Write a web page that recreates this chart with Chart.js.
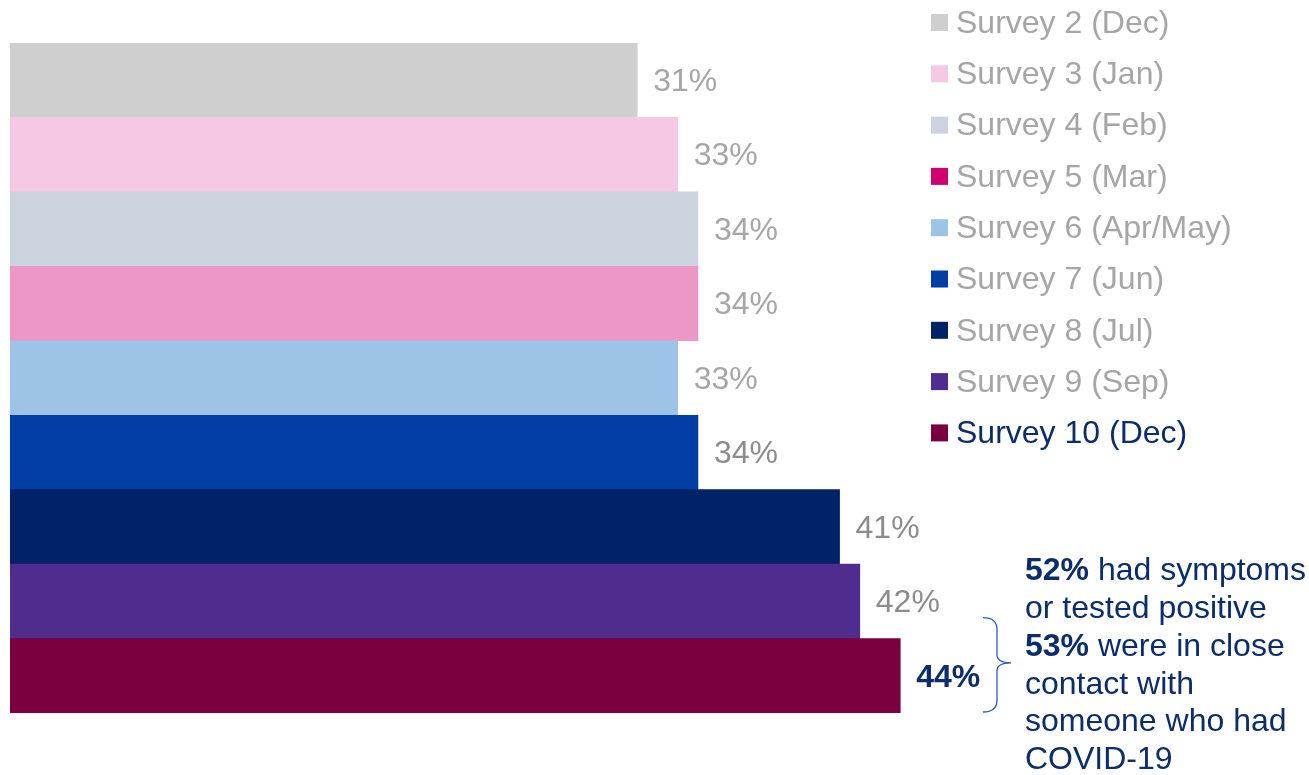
<!DOCTYPE html>
<html>
<head>
<meta charset="utf-8">
<script src="https://cdn.jsdelivr.net/npm/chart.js@4/dist/chart.umd.min.js"></script>
<style>
  html, body { margin: 0; padding: 0; background: #fff; }
  #wrap { width: 1309px; height: 775px; position: relative; }
</style>
</head>
<body>
<div id="wrap"><canvas id="chart" width="1309" height="775"></canvas></div>
<script>
const surveys = ["Survey 2 (Dec)", "Survey 3 (Jan)", "Survey 4 (Feb)", "Survey 5 (Mar)", "Survey 6 (Apr/May)",
  "Survey 7 (Jun)", "Survey 8 (Jul)", "Survey 9 (Sep)", "Survey 10 (Dec)"];
const values = [31, 33, 34, 34, 33, 34, 41, 42, 44];
const barColors = ["#cfcfcf", "#f5c9e3", "#cbd3de", "#ec97c6", "#9dc3e6", "#003da5", "#002266", "#4f2d8f", "#7a0040"];
const legendColors = ["#cfcfcf", "#f5c9e3", "#cbd3de", "#d1006f", "#9dc3e6", "#003da5", "#002266", "#4f2d8f", "#7a0040"];
const labelColors = ["#a6a6a6", "#a6a6a6", "#a6a6a6", "#a6a6a6", "#a6a6a6", "#8c8c8c", "#8c8c8c", "#8c8c8c", "#0b2d6b"];
const noteLines = [
  [["52%", true], [" had symptoms", false]],
  [["or tested positive", false]],
  [["53%", true], [" were in close", false]],
  [["contact with", false]],
  [["someone who had", false]],
  [["COVID-19", false]]
];

const FONT = "'Liberation Sans', Arial, sans-serif";
const NAVY = "#0b2d6b";

const overlay = {
  id: "overlay",
  afterDatasetsDraw(chart) {
    const ctx = chart.ctx;
    const bars = chart.getDatasetMeta(0).data;
    const last = bars.length - 1;

    // value labels at the end of each bar
    ctx.save();
    ctx.textBaseline = "middle";
    ctx.textAlign = "left";
    bars.forEach((bar, i) => {
      ctx.font = (i === last ? "bold " : "") + "32px " + FONT;
      ctx.fillStyle = labelColors[i];
      ctx.fillText(values[i] + "%", bar.x + 16, bar.y + 2);
    });

    // legend, one row per survey
    const lx = 931, ly = 23, step = 51.3;
    ctx.font = "32px " + FONT;
    surveys.forEach((s, i) => {
      const y = ly + i * step;
      ctx.fillStyle = legendColors[i];
      ctx.fillRect(lx, y - 9, 17, 17);
      ctx.fillStyle = i === last ? NAVY : "#a6a6a6";
      ctx.fillText(s, lx + 25, y + 1);
    });

    // brace next to the last bar
    const b = bars[last];
    const top = b.y - b.height / 2 - 21, bot = b.y + b.height / 2 - 1, mid = (top + bot) / 2 - 2;
    const bx = 983;
    ctx.strokeStyle = "#2b5bc0";
    ctx.lineWidth = 1.3;
    ctx.beginPath();
    ctx.moveTo(bx, top);
    ctx.quadraticCurveTo(bx + 14, top, bx + 14, top + 12);
    ctx.lineTo(bx + 14, mid - 8);
    ctx.quadraticCurveTo(bx + 14, mid, bx + 28, mid);
    ctx.quadraticCurveTo(bx + 14, mid, bx + 14, mid + 8);
    ctx.lineTo(bx + 14, bot - 12);
    ctx.quadraticCurveTo(bx + 14, bot, bx, bot);
    ctx.stroke();

    // note text
    const nx = 1025, ny = 571, lh = 37.9;
    ctx.fillStyle = NAVY;
    noteLines.forEach((parts, i) => {
      let x = nx;
      parts.forEach(([txt, bold]) => {
        ctx.font = (bold ? "bold " : "") + "32px " + FONT;
        ctx.fillText(txt, x, ny + i * lh);
        x += ctx.measureText(txt).width;
      });
    });
    ctx.restore();
  }
};

new Chart(document.getElementById("chart"), {
  type: "bar",
  data: {
    labels: surveys,
    datasets: [{
      data: values,
      backgroundColor: barColors,
      borderWidth: 0,
      barPercentage: 1,
      categoryPercentage: 1
    }]
  },
  options: {
    indexAxis: "y",
    responsive: false,
    animation: false,
    layout: { padding: { left: 10, top: 43, bottom: 62, right: 85 } },
    scales: {
      x: { display: false, min: 0, max: 60 },
      y: { display: false }
    },
    plugins: {
      legend: { display: false },
      tooltip: { enabled: false }
    }
  },
  plugins: [overlay]
});
</script>
</body>
</html>
